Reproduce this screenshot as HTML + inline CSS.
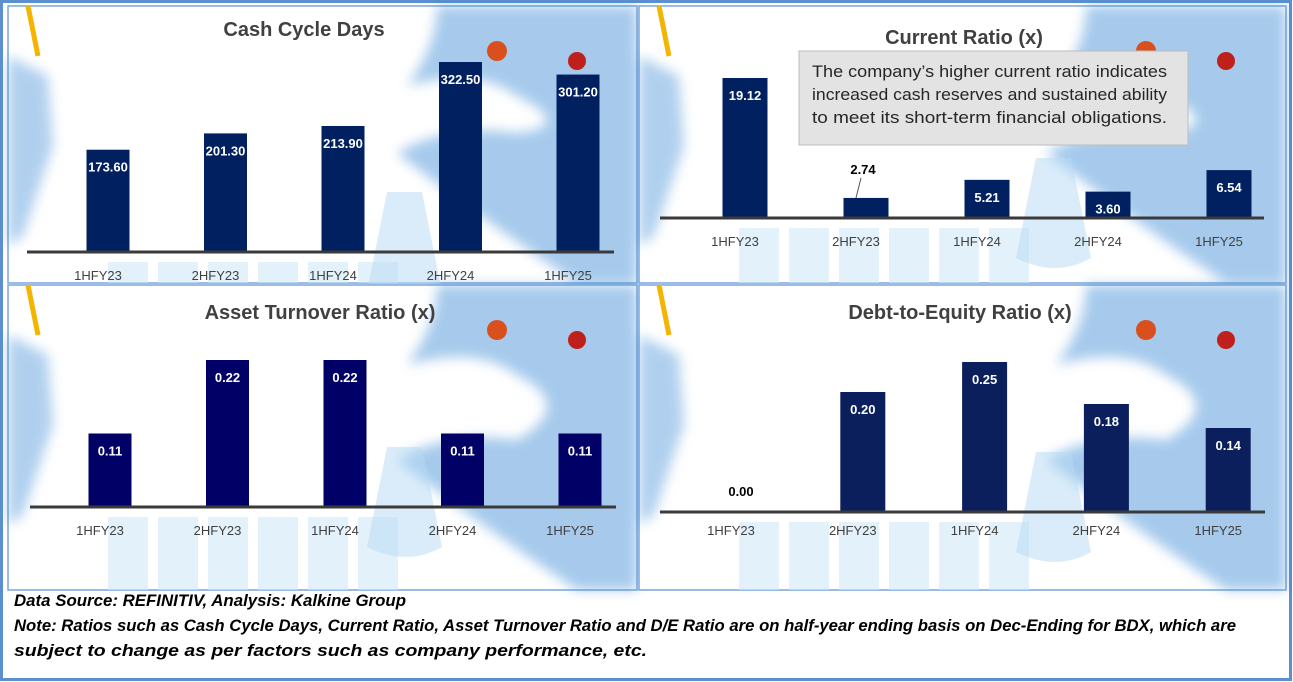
<!DOCTYPE html>
<html><head><meta charset="utf-8"><style>
html,body{margin:0;padding:0;background:#fff}
svg{display:block;font-family:"Liberation Sans",sans-serif}
</style></head><body>
<svg id="root" width="1293" height="682" viewBox="0 0 1293 682">
<defs>
<filter id="bl" x="-30%" y="-30%" width="160%" height="160%"><feGaussianBlur stdDeviation="6"/></filter>
</defs>
<rect x="1.5" y="1.5" width="1289" height="678" fill="#fff" stroke="#5b8fd0" stroke-width="3"/>
<g id="panels"></g>
<g font-weight="bold" font-style="italic" font-size="17" fill="#000">
<text x="14" y="606" textLength="392" lengthAdjust="spacingAndGlyphs">Data Source: REFINITIV, Analysis: Kalkine Group</text>
<text x="14" y="631" textLength="1222" lengthAdjust="spacingAndGlyphs">Note: Ratios such as Cash Cycle Days, Current Ratio, Asset Turnover Ratio and D/E Ratio are on half-year ending basis on Dec-Ending for BDX, which are</text>
<text x="14" y="656" textLength="633" lengthAdjust="spacingAndGlyphs">subject to change as per factors such as company performance, etc.</text>
</g>
</svg>
<script>
const categories = ["1HFY23","2HFY23","1HFY24","2HFY24","1HFY25"];
const cashCycleValues = [173.60, 201.30, 213.90, 322.50, 301.20];
const currentRatioValues = [19.12, 2.74, 5.21, 3.60, 6.54];
const assetTurnoverValues = [0.11, 0.22, 0.22, 0.11, 0.11];
const debtEquityValues = [0.00, 0.20, 0.25, 0.18, 0.14];
const chartTitles = ["Cash Cycle Days","Current Ratio (x)","Asset Turnover Ratio (x)","Debt-to-Equity Ratio (x)"];

const NS="http://www.w3.org/2000/svg";
const root=document.getElementById('panels');
function mk(tag,attrs,parent){const e=document.createElementNS(NS,tag);for(const k in attrs)e.setAttribute(k,attrs[k]);(parent||root).appendChild(e);return e;}

const panels=[
 {name:'cash-cycle-days',vals:cashCycleValues,title:chartTitles[0],x:8,y:6,w:629,h:277,base:252,lx0:27,lx1:614,c0:108,step:117.5,bw:43,pxPerUnit:190/322.5,titleX:304,titleY:36,catY:280,color:'#002060',dec:2},
 {name:'current-ratio',vals:currentRatioValues,title:chartTitles[1],x:639,y:6,w:647,h:277,base:218,lx0:660,lx1:1264,c0:745,step:121,bw:45,pxPerUnit:140/19.12,titleX:964,titleY:44,catY:246,color:'#002060',dec:2},
 {name:'asset-turnover-ratio',vals:assetTurnoverValues,title:chartTitles[2],x:8,y:285,w:629,h:305,base:507,lx0:30,lx1:616,c0:110,step:117.5,bw:43,pxPerUnit:147/0.22,titleX:320,titleY:319,catY:535,color:'#000066',dec:2},
 {name:'debt-to-equity-ratio',vals:debtEquityValues,title:chartTitles[3],x:639,y:285,w:647,h:305,base:512,lx0:660,lx1:1265,c0:741,step:121.8,bw:45,pxPerUnit:150/0.25,titleX:960,titleY:319,catY:535,color:'#0b1f5c',dec:2}
];

panels.forEach((p,pi)=>{
 const g=mk('g',{});
 
 
 const bg=mk('rect',{x:p.x,y:p.y,width:p.w,height:p.h,fill:'#fff',stroke:'#7aa6dc','stroke-width':1.5},g);
 
 
 const deco=mk('g',{},g);
 
 
 const R=p.x+p.w;
 mk('path',{d:`M${R-200} ${p.y} L${R} ${p.y} L${R} ${p.y+p.h} L${R-60} ${p.y+p.h} Q${R-150} ${p.y+p.h-60} ${R-240} ${p.y+p.h-130} Q${R-190} ${p.y+p.h-160} ${R-120} ${p.y+p.h-150} Q${R-60} ${p.y+120} ${R-120} ${p.y+90} Q${R-160} ${p.y+60} ${R-230} ${p.y+80} Q${R-200} ${p.y+40} ${R-200} ${p.y}Z`,fill:'#3a8ad6',filter:'url(#bl)',opacity:0.45},deco);
 mk('path',{d:`M${p.x} ${p.y+50} L${p.x+40} ${p.y+70} L${p.x+45} ${p.y+140} L${p.x+15} ${p.y+230} L${p.x} ${p.y+240}Z`,fill:'#3a8ad6',opacity:0.4,filter:'url(#bl)'},deco);
 mk('line',{x1:p.x+20,y1:p.y,x2:p.x+30,y2:p.y+50,stroke:'#f5b400','stroke-width':5},deco);
 for(let k=0;k<6;k++){mk('rect',{x:p.x+100+k*50,y:p.base+10,width:40,height:p.y+p.h-p.base-10,fill:'#cfe7f7',opacity:0.6},deco);}
 mk('path',{d:`M${R-250} ${p.base-60} L${R-215} ${p.base-60} L${R-195} ${p.base+40} Q${R-230} ${p.base+60} ${R-270} ${p.base+40}Z`,fill:'#b5daf3',opacity:0.5},deco);
 mk('circle',{cx:R-140,cy:p.y+45,r:10,fill:'#d9501e'},deco);
 mk('circle',{cx:R-60,cy:p.y+55,r:9,fill:'#c0201c'},deco);

 const t=mk('text',{x:p.titleX,y:p.titleY,'text-anchor':'middle','font-size':20,'font-weight':'bold',fill:'#404040'},g);
 t.textContent=p.title;
 
 

 p.vals.forEach((v,i)=>{
  const cx=p.c0+i*p.step;
  const h=v*p.pxPerUnit;
  const b=mk('rect',{x:cx-p.bw/2,y:p.base-h,width:p.bw,height:h,fill:p.color},g);
  
  
  const lbl=mk('text',{'text-anchor':'middle','font-size':13,'font-weight':'bold'},g);
  lbl.textContent=v.toFixed(p.dec);
  
  
  if(h<26){
   lbl.setAttribute('x',cx+(v>0?-3:0));lbl.setAttribute('y',p.base-h-(v>0?24:16));lbl.setAttribute('fill','#000');
   if(v>0)mk('line',{x1:cx-10,y1:p.base-h,x2:cx-5,y2:p.base-h-20,stroke:'#555','stroke-width':1},g);
  } else {
   lbl.setAttribute('x',cx);lbl.setAttribute('y',p.base-h+22);lbl.setAttribute('fill','#fff');
  }
  const c=mk('text',{x:cx-10,y:p.catY,'text-anchor':'middle','font-size':13,fill:'#404040'},g);
  c.textContent=categories[i];
  
  
 });
 const ax=mk('line',{x1:p.lx0,y1:p.base,x2:p.lx1,y2:p.base,stroke:'#3a3a3a','stroke-width':3},g);
 
 

 if(pi===1){
  const cb=mk('g',{},g);
  
  
  mk('rect',{x:799,y:51,width:389,height:94,fill:'#e3e3e3',stroke:'#bdbdbd','stroke-width':1},cb);
  ["The company’s higher current ratio indicates","increased cash reserves and sustained ability","to meet its short-term financial obligations."].forEach((s,k)=>{
   const tx=mk('text',{x:812,y:77+k*23,'font-size':17,fill:'#262626',textLength:355,lengthAdjust:'spacingAndGlyphs'},cb);
   tx.textContent=s;
   
   
  });
 }
});
</script>
</body></html>
